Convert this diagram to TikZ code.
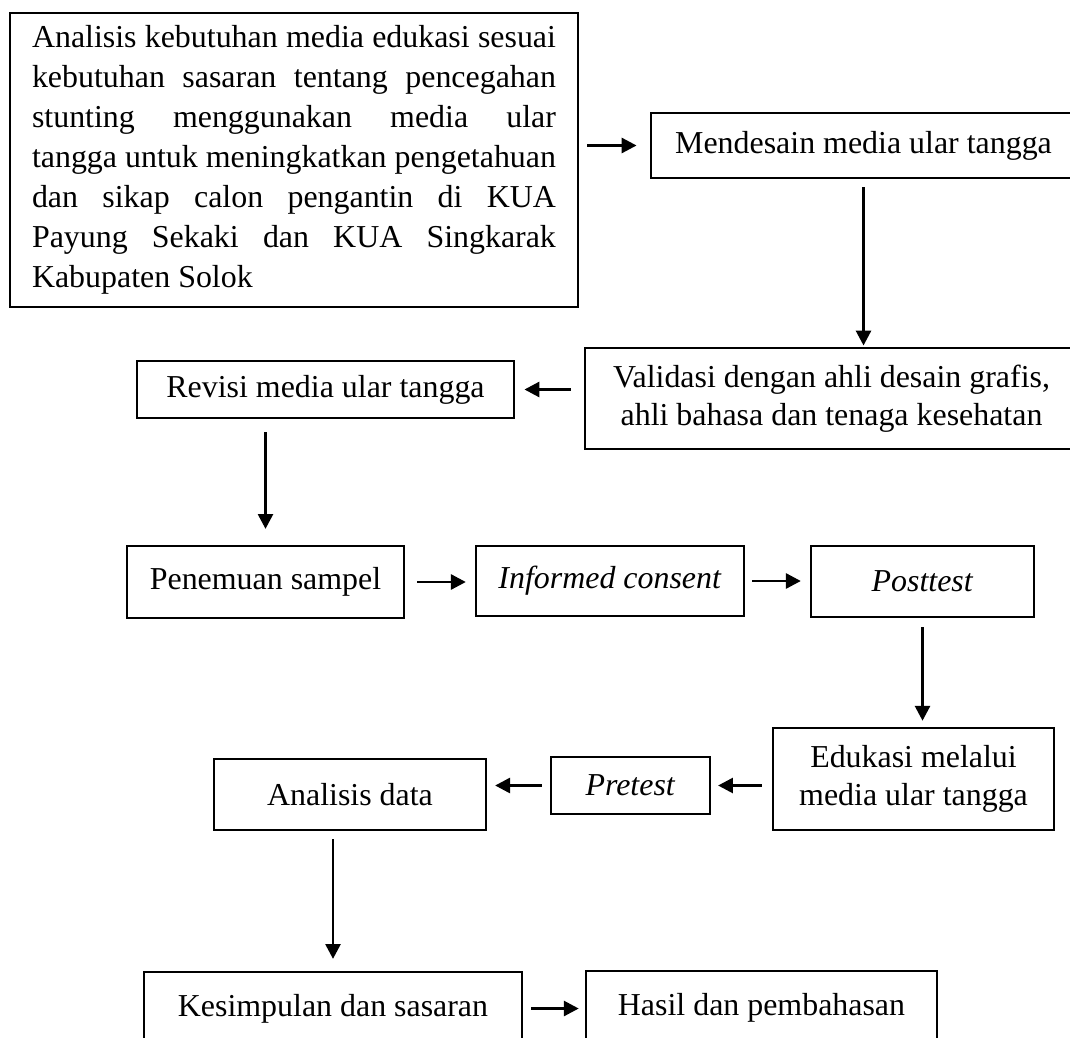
\documentclass[tikz,border=0pt]{standalone}
\usepackage{fontspec}
\setmainfont{Liberation Serif}
\usetikzlibrary{arrows.meta}
\newlength\pxl
\setlength\pxl{0.376pt}

\begin{document}
\begin{tikzpicture}
[-{Triangle[length=5.6pt,width=5.6pt]},line width=1.1pt,%
  x=0.376pt,y=-0.376pt,%
  every node/.style={shape=rectangle,draw,line width=0.85pt,inner sep=0pt,%
    align=center,font=\fontsize{12}{14.5}\selectfont},%
  gap/.style 2 args={shorten <=#1,shorten >=#2}]
\useasboundingbox (0,0) rectangle (1070,1037);
\clip (0,0) rectangle (1070,1037);
\node[minimum width=568\pxl,minimum height=294\pxl,align=left,%
  font=\fontsize{12}{15}\selectfont] (big) at (294,160)
  {\makebox[197pt][s]{Analisis kebutuhan media edukasi sesuai}\\
   \makebox[197pt][s]{kebutuhan sasaran tentang pencegahan}\\
   \makebox[197pt][s]{stunting menggunakan media ular}\\
   \makebox[197pt][s]{tangga untuk meningkatkan pengetahuan}\\
   \makebox[197pt][s]{dan sikap calon pengantin di KUA}\\
   \makebox[197pt][s]{Payung Sekaki dan KUA Singkarak}\\
   \makebox[197pt][l]{Kabupaten Solok}};
\node[minimum width=425\pxl,minimum height=65\pxl] (mend) at (863.5,145.5)
  {Mendesain media ular tangga};
\node[minimum width=493\pxl,minimum height=101\pxl] (valid) at (831.5,398.5)
  {Validasi dengan ahli desain grafis,\\ahli bahasa dan tenaga kesehatan};
\node[minimum width=377\pxl,minimum height=57\pxl] (revisi) at (325.5,389.5)
  {Revisi media ular tangga};
\node[minimum width=277\pxl,minimum height=72\pxl] (pen) at (265.5,582)
  {Penemuan sampel};
\node[minimum width=268\pxl,minimum height=70\pxl] (inf) at (610,581)
  {\textit{Informed consent}};
\node[minimum width=223\pxl,minimum height=71\pxl] (post) at (922.5,581.5)
  {\textit{Posttest}};
\node[minimum width=281\pxl,minimum height=102\pxl] (edu) at (913.5,779)
  {Edukasi melalui\\media ular tangga};
\node[minimum width=159\pxl,minimum height=57\pxl] (pre) at (630.5,785.5)
  {\textit{Pretest}};
\node[minimum width=272\pxl,minimum height=71\pxl] (anal) at (350,794.5)
  {Analisis data};
\node[minimum width=378\pxl,minimum height=73\pxl] (kes) at (333,1008.5)
  {Kesimpulan dan sasaran};
\node[minimum width=351\pxl,minimum height=74\pxl] (hasil) at (761.5,1008)
  {Hasil dan pembahasan};

\draw[gap={3pt}{5pt}] (big.east |- mend.west) -- (mend.west);
\draw[gap={3pt}{0.5pt}] (mend.south) -- (mend.south |- valid.north);
\draw[gap={5pt}{3.5pt}] (valid.west |- revisi.east) -- (revisi.east);
\draw[gap={5pt}{6pt}] (pen.north |- revisi.south) -- (pen.north);
\draw[gap={4.5pt}{3.4pt}] (pen.east) -- (inf.west |- pen.east);
\draw[gap={2.6pt}{3.4pt}] (inf.east) -- (post.west |- inf.east);
\draw[gap={3.4pt}{2.3pt}] (post.south) -- (post.south |- edu.north);
\draw[gap={3.8pt}{2.6pt}] (edu.west |- pre.east) -- (pre.east);
\draw[gap={3pt}{3pt}] (pre.west) -- (anal.east |- pre.west);
\draw[gap={3pt}{4.5pt}] (kes.north |- anal.south) -- (kes.north);
\draw[gap={3pt}{2.3pt}] (kes.east) -- (hasil.west |- kes.east);
\end{tikzpicture}
\end{document}
